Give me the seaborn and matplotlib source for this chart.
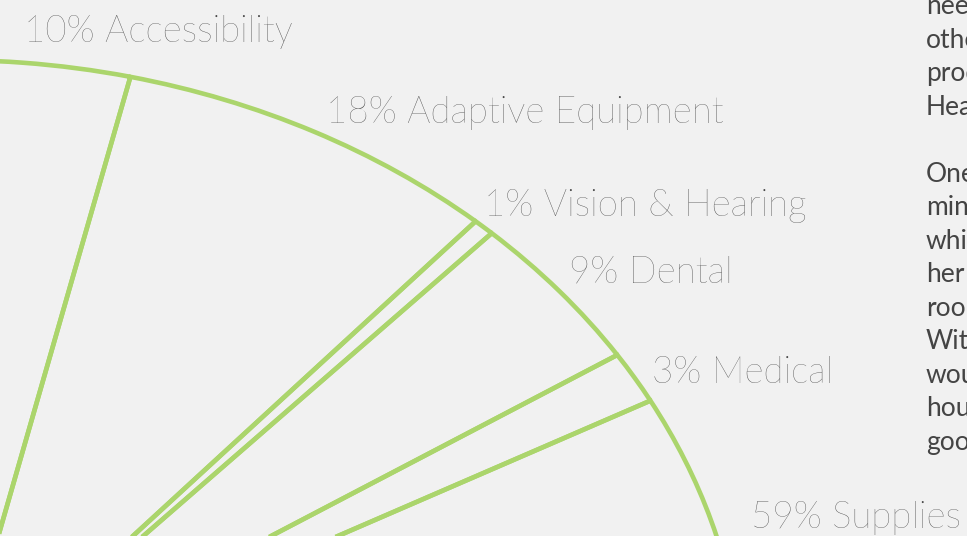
import matplotlib.pyplot as plt
import seaborn as sns

# spending categories, clockwise from the top
categories = ["Accessibility", "Adaptive Equipment", "Vision & Hearing", "Dental", "Medical", "Supplies"]
percent = [10, 18, 1, 9, 3, 59]

# the pie only sweeps part of the circle
arc_share = 0.437
start_angle = 92.6

# cropped article text on the right edge
side_lines = ["needs", "other", "products", "Health", "", "One", "mind", "which",
              "her", "room", "With", "would", "house", "good"]

# label placement (left x, baseline y) in pixels
label_pos = [(24, 42), (326, 123), (484, 216), (569, 283), (652, 383), (751, 528)]

GREEN = "#abd56c"
BG = "#f1f1f1"
W, H = 967, 536


def main() -> None:
    sns.set_theme(style="white", rc={"figure.facecolor": BG, "axes.facecolor": BG})
    plt.rcParams["font.family"] = ["Lato", "DejaVu Sans"]

    fig = plt.figure(figsize=(W / 100, H / 100), dpi=100)
    ax = fig.add_axes([0, 0, 1, 1])

    sizes = [p / 100 * arc_share for p in percent]
    ax.pie(
        sizes,
        normalize=False,
        startangle=start_angle,
        counterclock=False,
        wedgeprops=dict(fill=False, edgecolor=GREEN, linewidth=3.3),
    )
    # pie centre sits off the canvas, lower left; radius stretched into an ellipse
    cx, cy, rx, ry = -50, 704, 794, 644
    ax.set_aspect("auto")
    ax.set_xlim((0 - cx) / rx, (W - cx) / rx)
    ax.set_ylim((cy - H) / ry, cy / ry)
    ax.axis("off")

    for cat, p, (x, y) in zip(categories, percent, label_pos):
        fig.text(x / W, 1 - y / H, f"{p}% {cat}", fontsize=26.5, fontweight="light",
                 color="#474747", va="baseline", ha="left")

    for i, line in enumerate(side_lines):
        if line:
            y = 181.7 + (i - 5) * 33.5
            fig.text(926 / W, 1 - y / H, line, fontsize=19, color="#444444",
                     va="baseline", ha="left")

    fig.savefig("out.png", dpi=100, facecolor=BG)
    plt.close(fig)


if __name__ == "__main__":
    main()
